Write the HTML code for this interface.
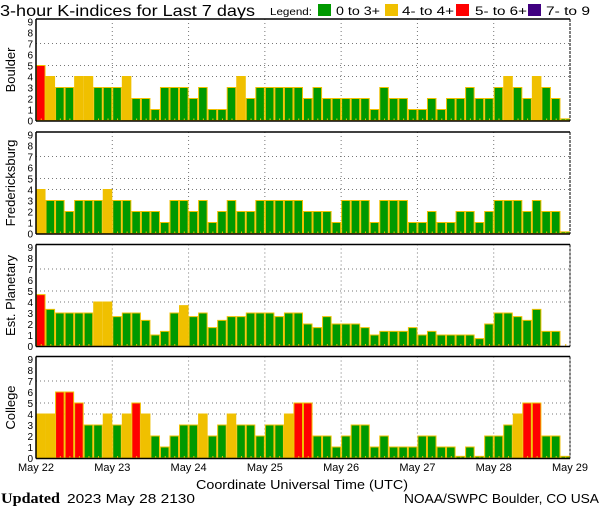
<!DOCTYPE html>
<html><head><meta charset="utf-8"><style>
html,body{margin:0;padding:0;background:#fff;width:600px;height:510px;overflow:hidden}
svg{display:block}
text{font-family:"Liberation Sans",sans-serif;fill:#000}
text.ser{font-family:"Liberation Serif",serif}
</style></head><body>
<svg id="s" width="600" height="510" xmlns="http://www.w3.org/2000/svg">
<text x="0" y="16" font-size="16" textLength="255" lengthAdjust="spacingAndGlyphs">3-hour K-indices for Last 7 days</text>
<text x="270" y="15" font-size="10.5" textLength="42" lengthAdjust="spacingAndGlyphs">Legend:</text>
<rect x="318" y="4" width="13" height="12" fill="#009900"/>
<text x="336" y="15" font-size="12" textLength="44" lengthAdjust="spacingAndGlyphs">0 to 3+</text>
<rect x="385" y="4" width="13" height="12" fill="#f0c000"/>
<text x="402" y="15" font-size="12" textLength="52" lengthAdjust="spacingAndGlyphs">4- to 4+</text>
<rect x="456" y="4" width="13" height="12" fill="#ff0000"/>
<text x="475" y="15" font-size="12" textLength="52" lengthAdjust="spacingAndGlyphs">5- to 6+</text>
<rect x="528" y="4" width="13" height="12" fill="#400080"/>
<text x="546" y="15" font-size="12" textLength="44" lengthAdjust="spacingAndGlyphs">7- to 9</text>
<g id="g"></g>
<text x="302" y="489" font-size="13" text-anchor="middle" textLength="212" lengthAdjust="spacingAndGlyphs">Coordinate Universal Time (UTC)</text>
<text class="ser" x="1" y="503" font-size="15" font-weight="bold" textLength="59" lengthAdjust="spacingAndGlyphs">Updated</text>
<text x="67" y="503" font-size="13" textLength="128" lengthAdjust="spacingAndGlyphs">2023 May 28 2130</text>
<text x="599" y="503" font-size="13" text-anchor="end" textLength="195" lengthAdjust="spacingAndGlyphs">NOAA/SWPC Boulder, CO USA</text>
</svg>
<script>
var data=[
["Boulder",19,[5,4,3,3,4,4,3,3, 3,4,2,2,1,3,3,3, 2,3,1,1,3,4,2,3, 3,3,3,3,2,3,2,2, 2,2,2,1,3,2,2,1, 1,2,1,2,2,3,2,2, 3,4,3,2,4,3,2,0.15]],
["Fredericksburg",132,[4,3,3,2,3,3,3,4, 3,3,2,2,2,1,3,3, 2,3,1,2,3,2,2,3, 3,3,3,3,2,2,2,1, 3,3,3,1,3,3,3,1, 1,2,1,1,2,2,1,2, 3,3,3,2,3,2,2,0.15]],
["Est. Planetary",244.5,[4.67,3.33,3,3,3,3,4,4, 2.67,3,3,2.33,1,1.33,3,3.67, 2.67,3,1.67,2.33,2.67,2.67,3,3, 3,2.67,3,3,2,1.67,2.67,2, 2,2,1.67,1,1.33,1.33,1.33,1.67, 1,1.33,1,1,1,1,0.67,2, 3,3,2.67,2.33,3.33,1.33,1.33,0]],
["College",356.5,[4,4,6,6,5,3,3,4, 3,4,5,4,2,1,2,3, 3,4,2,3,4,3,3,2, 3,3,4,5,5,2,2,1, 2,3,3,1,2,1,1,1, 2,2,1,1,0.15,1,0.15,2, 2,3,4,5,5,2,2,0.15]]
];
var h='',X0=36,X1=570,bw=(X1-X0)/56,U=11;
var days=["May 22","May 23","May 24","May 25","May 26","May 27","May 28","May 29"];
data.forEach(function(p){
 var top=p[1],base=top+101.5,bot=top+102;
 h+='<text transform="translate(15,'+(top+51)+') rotate(-90)" font-size="13" text-anchor="middle">'+p[0]+'</text>';
 for(var k=0;k<=9;k++){h+='<text x="33" y="'+(base-k*U+4)+'" font-size="10" text-anchor="end">'+k+'</text>';}
 [4,5,7].forEach(function(k){var y=base-k*U;h+='<line x1="'+X0+'" x2="'+X1+'" y1="'+y+'" y2="'+y+'" stroke="#777" stroke-dasharray="1,3"/>';});
 for(var d=1;d<7;d++){var x=X0+d*8*bw;h+='<line x1="'+x+'" x2="'+x+'" y1="'+top+'" y2="'+bot+'" stroke="#777" stroke-dasharray="1,3"/>';}
 p[2].forEach(function(v,i){
  var x=X0+i*bw;
  if(v>0){var c=v>=6.67?'#400080':v>=4.67?'#ff0000':v>=3.67?'#f0c000':'#009900';
  var y=base-v*U;h+='<rect x="'+(x+0.5)+'" y="'+y+'" width="'+(bw-1)+'" height="'+(base-y)+'" fill="'+c+'" stroke="#f0c000" stroke-width="1"/>';}
  h+='<rect x="'+(x+bw/2)+'" y="'+(base-2)+'" width="1" height="2" fill="#f0c000"/>';
 });
 h+='<line x1="'+X0+'" x2="'+X1+'" y1="'+top+'" y2="'+top+'" stroke="#000" stroke-width="1.5"/>';
 h+='<line x1="'+X0+'" x2="'+X1+'" y1="'+bot+'" y2="'+bot+'" stroke="#000" stroke-width="1.5"/>';
 h+='<line x1="'+X0+'" x2="'+X0+'" y1="'+top+'" y2="'+bot+'" stroke="#000" stroke-width="1.5"/>';
 h+='<line x1="'+X1+'" x2="'+X1+'" y1="'+top+'" y2="'+bot+'" stroke="#000" stroke-width="1" stroke-dasharray="3,1"/>';
});
days.forEach(function(t,d){h+='<text x="'+(X0+d*8*bw)+'" y="471" font-size="11" text-anchor="middle">'+t+'</text>';});
document.getElementById('g').innerHTML=h;
</script>
</body></html>
